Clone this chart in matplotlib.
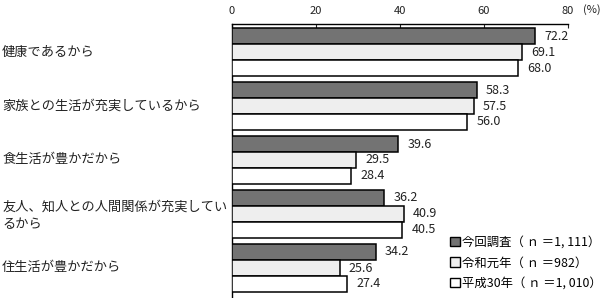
import matplotlib
matplotlib.use("Agg")
import matplotlib.pyplot as plt
import numpy as np
from matplotlib.patches import Patch

plt.rcParams['font.family'] = ['Noto Sans CJK JP', 'DejaVu Sans']

categories = ["健康であるから",
              "家族との生活が充実しているから",
              "食生活が豊かだから",
              "友人、知人との人間関係が充実してい\nるから",
              "住生活が豊かだから"]
series_names = ["今回調査（ ｎ ＝1, 111）", "令和元年（ ｎ ＝982）", "平成30年（ ｎ ＝1, 010）"]
current = [72.2, 58.3, 39.6, 36.2, 34.2]
reiwa1 = [69.1, 57.5, 29.5, 40.9, 25.6]
heisei30 = [68.0, 56.0, 28.4, 40.5, 27.4]
xticks = [0, 20, 40, 60, 80]

colors = ["#737373", "#eeeeee", "#ffffff"]
series = [current, reiwa1, heisei30]

W, H = 600, 298
fig = plt.figure(figsize=(W / 100, H / 100), dpi=100)
ax_left, ax_right, ax_top = 232, 568, 24
ax = fig.add_axes([ax_left / W, 0, (ax_right - ax_left) / W, 1 - ax_top / H])

pitch = 54.0
bar_h = 16 / pitch
first_off = 4 / pitch
group_pos = np.arange(len(categories))
for k, (vals, col) in enumerate(zip(series, colors)):
    ys = group_pos + first_off + bar_h * (k + 0.5)
    ax.barh(ys, vals, height=bar_h, color=col, edgecolor="black", linewidth=1.1, zorder=3)
    for y, v in zip(ys, vals):
        ax.text(v + 2.2, y, f"{v:.1f}", va="center", ha="left", fontsize=9, color="#222222")

ax.set_xlim(0, 80)
ax.set_ylim((H - ax_top) / pitch, 0)
ax.xaxis.tick_top()
ax.set_xticks(xticks)
ax.tick_params(axis="x", direction="in", length=3, labelsize=8, pad=6, colors="#222222")
ax.set_yticks([])
for s in ["right", "bottom"]:
    ax.spines[s].set_visible(False)
for s in ["top", "left"]:
    ax.spines[s].set_linewidth(1.0)

fig.text(583 / W, 1 - 10 / H, "(%)", fontsize=8, va="center", ha="left", color="#222222")

for g, cat in enumerate(categories):
    yc = g + first_off + bar_h * 1.5
    multi = "\n" in cat
    ax.text(-232 / 4.2 + 0.5, yc + (0.04 if multi else 0.0), cat, fontsize=9.5, va="center",
            ha="left", linespacing=1.45, color="#222222", transform=ax.transData, clip_on=False)

handles = [Patch(facecolor=c, edgecolor="black", linewidth=1.0) for c in colors]
fig.legend(handles, series_names, loc="upper left", bbox_to_anchor=(450 / W, 1 - 236 / H),
           frameon=False, fontsize=8.9, handlelength=0.8, handleheight=0.8,
           handletextpad=0.15, labelspacing=0.6, borderpad=0, borderaxespad=0)

fig.savefig("out.png", dpi=100)
